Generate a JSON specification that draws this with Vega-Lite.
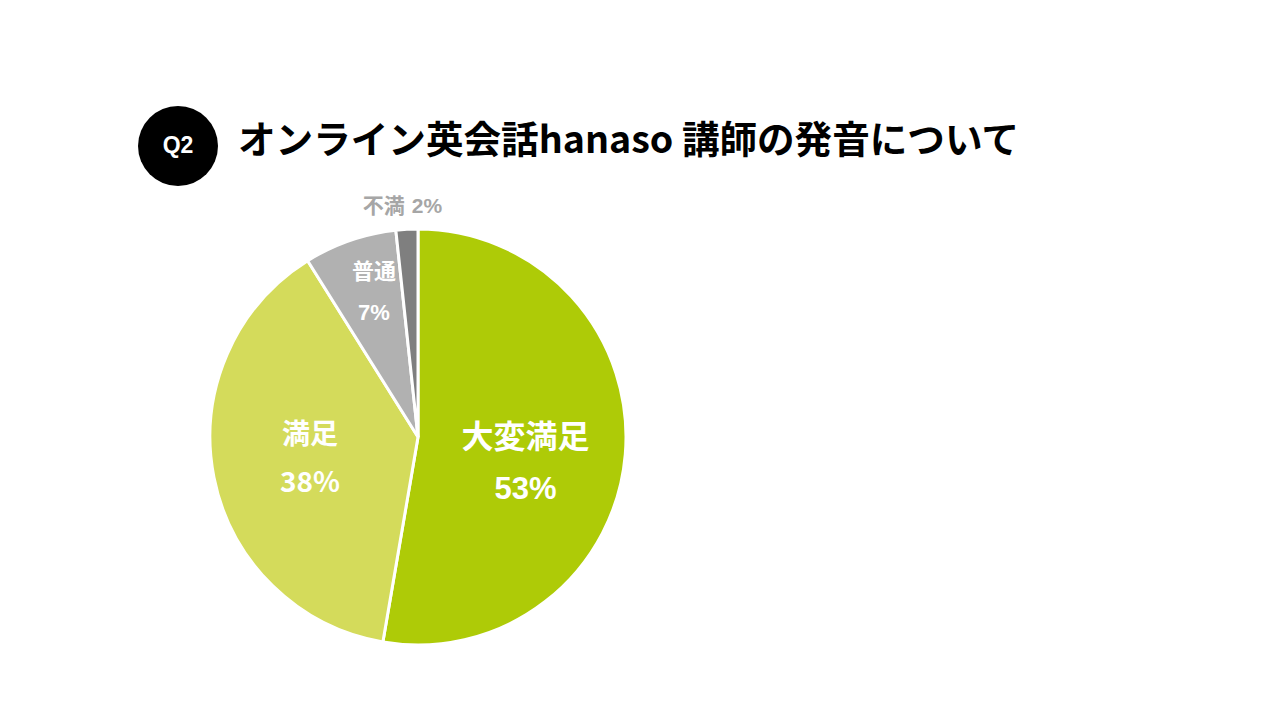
{
  "$schema": "https://vega.github.io/schema/vega-lite/v6.json",
  "padding": {"left": 138, "top": 106, "right": 10, "bottom": 10},
  "spacing": 10,
  "background": "white",
  "config": {"view": {"stroke": null}},
  "datasets": {
    "badge": [{"q": "Q2"}],
    "heading": [{"text": "オンライン英会話hanaso 講師の発音について"}],
    "answers": [
      {"name": "大変満足", "share": 0.527},
      {"name": "満足", "share": 0.384},
      {"name": "普通", "share": 0.072},
      {"name": "不満", "share": 0.017}
    ]
  },
  "vconcat": [
    {
      "spacing": 19,
      "hconcat": [
        {
          "width": 80,
          "height": 80,
          "data": {"name": "badge"},
          "layer": [
            {
              "mark": {"type": "point", "filled": true, "shape": "circle", "size": 6400, "color": "#000000", "opacity": 1},
              "encoding": {}
            },
            {
              "mark": {"type": "text", "color": "white", "font": "Liberation Sans", "fontSize": 23, "fontWeight": "bold", "baseline": "middle"},
              "encoding": {"text": {"field": "q"}}
            }
          ]
        },
        {
          "width": 773,
          "height": 80,
          "data": {"name": "heading"},
          "mark": {"type": "text", "align": "center", "baseline": "middle", "dy": -4, "font": "Noto Sans CJK JP", "fontSize": 37.6, "fontWeight": "bold", "color": "#000000"},
          "encoding": {"text": {"field": "text"}}
        }
      ]
    },
    {
      "width": 560,
      "height": 416,
      "data": {"name": "answers"},
      "encoding": {
        "theta": {"field": "share", "type": "quantitative", "stack": true},
        "order": {"field": "share", "sort": "descending"}
      },
      "layer": [
        {
          "mark": {"type": "arc", "stroke": "white", "strokeWidth": 3},
          "encoding": {
            "color": {
              "field": "name",
              "type": "nominal",
              "scale": {
                "domain": ["大変満足", "満足", "普通", "不満"],
                "range": ["#aecb07", "#d4db5b", "#b1b1b1", "#7f7f7f"]
              },
              "legend": null
            }
          }
        },
        {
          "mark": {"type": "text", "radius": 110, "dx": -2, "dy": -8, "color": "white", "font": "Noto Sans CJK JP", "fontSize": 32, "fontWeight": "bold", "baseline": "middle"},
          "encoding": {"text": {"condition": {"test": "datum.name === '大変満足'", "field": "name"}, "value": ""}}
        },
        {
          "mark": {"type": "text", "radius": 110, "dx": -2, "dy": 44, "color": "white", "font": "Liberation Sans", "fontSize": 31, "fontWeight": "bold", "baseline": "middle"},
          "encoding": {"text": {"condition": {"test": "datum.name === '大変満足'", "field": "share", "format": ".0%"}, "value": ""}}
        },
        {
          "mark": {"type": "text", "radius": 110, "dy": -22, "color": "white", "font": "Noto Sans CJK JP", "fontSize": 28, "fontWeight": "bold", "baseline": "middle"},
          "encoding": {"text": {"condition": {"test": "datum.name === '満足'", "field": "name"}, "value": ""}}
        },
        {
          "mark": {"type": "text", "radius": 110, "dy": 26, "color": "white", "font": "Noto Sans CJK JP", "fontSize": 28, "fontWeight": "bold", "baseline": "middle"},
          "encoding": {"text": {"condition": {"test": "datum.name === '満足'", "field": "share", "format": ".0%"}, "value": ""}}
        },
        {
          "mark": {"type": "text", "radius": 150, "dx": 5, "dy": -23, "color": "white", "font": "Noto Sans CJK JP", "fontSize": 22, "fontWeight": "bold", "baseline": "middle"},
          "encoding": {"text": {"condition": {"test": "datum.name === '普通'", "field": "name"}, "value": ""}}
        },
        {
          "mark": {"type": "text", "radius": 150, "dx": 5, "dy": 18, "color": "white", "font": "Liberation Sans", "fontSize": 22, "fontWeight": "bold", "baseline": "middle"},
          "encoding": {"text": {"condition": {"test": "datum.name === '普通'", "field": "share", "format": ".0%"}, "value": ""}}
        },
        {
          "mark": {"type": "text", "radius": 230, "dx": -1, "align": "right", "color": "#a6a6a6", "font": "Noto Sans CJK JP", "fontSize": 21, "fontWeight": "bold", "baseline": "middle"},
          "encoding": {"text": {"condition": {"test": "datum.name === '不満'", "field": "name"}, "value": ""}}
        },
        {
          "mark": {"type": "text", "radius": 230, "dx": 6, "align": "left", "color": "#a6a6a6", "font": "Liberation Sans", "fontSize": 21, "fontWeight": "bold", "baseline": "middle"},
          "encoding": {"text": {"condition": {"test": "datum.name === '不満'", "field": "share", "format": ".0%"}, "value": ""}}
        }
      ]
    }
  ]
}
